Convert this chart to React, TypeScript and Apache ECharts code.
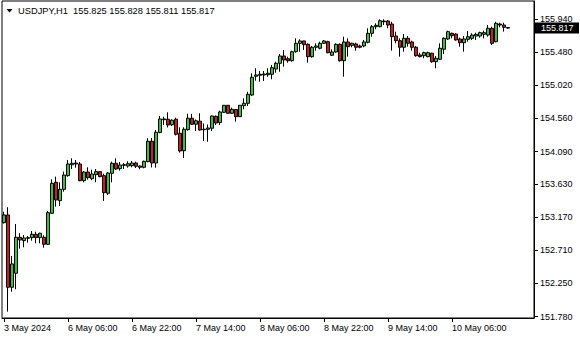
import { useEffect, useRef } from 'react';
import * as echarts from 'echarts';

const symbol = 'USDJPY';
const timeframe = 'H1';

const open = [
  153.095, 153.203, 152.192, 152.388, 152.891, 152.844, 152.877, 152.886, 152.933, 152.886,
  152.891, 152.793, 153.227, 153.660, 153.403, 153.562, 153.753, 153.906, 153.930, 153.916,
  153.683, 153.804, 153.711, 153.767, 153.809, 153.753, 153.507, 153.786, 153.926, 153.851,
  153.898, 153.888, 153.893, 153.930, 153.888, 153.870, 153.949, 154.234, 153.930, 154.357,
  154.536, 154.542, 154.465, 154.542, 154.346, 154.102, 154.396, 154.556, 154.473, 154.515,
  154.403, 154.402, 154.416, 154.583, 154.497, 154.639, 154.737, 154.625, 154.678, 154.578,
  154.732, 154.765, 154.881, 155.143, 155.157, 155.161, 155.165, 155.171, 155.245, 155.325,
  155.427, 155.389, 155.361, 155.487, 155.604, 155.637, 155.590, 155.417, 155.549, 155.535,
  155.604, 155.627, 155.437, 155.483, 155.590, 155.361, 155.623, 155.576, 155.595, 155.567,
  155.567, 155.618, 155.744, 155.837, 155.837, 155.916, 155.916, 155.874, 155.706, 155.641,
  155.549, 155.674, 155.623, 155.549, 155.441, 155.431, 155.417, 155.465, 155.347, 155.381,
  155.521, 155.665, 155.744, 155.734, 155.665, 155.613, 155.660, 155.674, 155.706, 155.706,
  155.730, 155.720, 155.814, 155.627, 155.874, 155.860, 155.825,
];

const high = [
  153.249, 153.311, 152.630, 153.077, 152.947, 152.923, 152.909, 152.979, 152.969, 152.955,
  152.919, 153.259, 153.702, 153.739, 153.660, 153.809, 153.972, 153.996, 153.972, 153.944,
  153.818, 153.870, 153.837, 153.846, 153.818, 153.781, 153.800, 153.949, 153.996, 153.944,
  153.930, 153.954, 153.958, 153.949, 153.893, 153.963, 154.276, 154.280, 154.392, 154.588,
  154.578, 154.639, 154.542, 154.564, 154.430, 154.430, 154.620, 154.616, 154.539, 154.625,
  154.483, 154.469, 154.592, 154.595, 154.662, 154.741, 154.741, 154.704, 154.681, 154.741,
  154.835, 154.927, 155.185, 155.255, 155.217, 155.217, 155.255, 155.301, 155.347, 155.455,
  155.511, 155.417, 155.501, 155.674, 155.660, 155.640, 155.604, 155.567, 155.604, 155.627,
  155.651, 155.640, 155.521, 155.604, 155.604, 155.697, 155.674, 155.613, 155.613, 155.585,
  155.651, 155.814, 155.860, 155.884, 155.940, 155.940, 155.930, 155.906, 155.767, 155.674,
  155.734, 155.706, 155.641, 155.567, 155.473, 155.487, 155.487, 155.473, 155.427, 155.604,
  155.688, 155.781, 155.753, 155.744, 155.683, 155.706, 155.776, 155.744, 155.753, 155.767,
  155.781, 155.860, 155.837, 155.906, 155.892, 155.892, 155.828,
];

const low = [
  153.084, 151.851, 152.130, 152.164, 152.732, 152.751, 152.816, 152.844, 152.807, 152.807,
  152.746, 152.783, 153.217, 153.319, 153.329, 153.529, 153.739, 153.846, 153.865, 153.674,
  153.660, 153.697, 153.688, 153.660, 153.730, 153.399, 153.483, 153.660, 153.832, 153.823,
  153.846, 153.865, 153.870, 153.860, 153.842, 153.856, 153.940, 153.867, 153.865, 154.346,
  154.462, 154.427, 154.448, 154.315, 154.077, 154.000, 154.382, 154.462, 154.378, 154.382,
  154.238, 154.228, 154.378, 154.462, 154.462, 154.630, 154.620, 154.616, 154.508, 154.574,
  154.681, 154.727, 154.867, 155.081, 155.067, 155.077, 155.137, 155.101, 155.193, 155.207,
  155.277, 155.333, 155.347, 155.473, 155.487, 155.511, 155.333, 155.403, 155.501, 155.521,
  155.595, 155.465, 155.427, 155.473, 155.347, 155.137, 155.417, 155.549, 155.501, 155.535,
  155.549, 155.604, 155.697, 155.800, 155.828, 155.860, 155.814, 155.501, 155.604, 155.417,
  155.487, 155.557, 155.501, 155.417, 155.409, 155.395, 155.409, 155.333, 155.255, 155.371,
  155.455, 155.651, 155.674, 155.641, 155.557, 155.487, 155.627, 155.651, 155.651, 155.683,
  155.674, 155.697, 155.581, 155.618, 155.828, 155.767, 155.811,
];

const close = [
  153.203, 152.192, 152.518, 152.891, 152.853, 152.881, 152.886, 152.933, 152.886, 152.947,
  152.793, 153.235, 153.646, 153.413, 153.562, 153.762, 153.916, 153.926, 153.916, 153.683,
  153.804, 153.725, 153.776, 153.809, 153.739, 153.515, 153.790, 153.926, 153.846, 153.902,
  153.906, 153.921, 153.930, 153.884, 153.870, 153.954, 154.234, 153.930, 154.360, 154.546,
  154.546, 154.462, 154.528, 154.332, 154.098, 154.402, 154.556, 154.472, 154.521, 154.392,
  154.395, 154.420, 154.588, 154.490, 154.644, 154.737, 154.625, 154.681, 154.578, 154.737,
  154.765, 154.891, 155.129, 155.161, 155.171, 155.175, 155.185, 155.263, 155.325, 155.427,
  155.371, 155.361, 155.487, 155.604, 155.637, 155.585, 155.417, 155.549, 155.567, 155.604,
  155.637, 155.473, 155.483, 155.590, 155.361, 155.623, 155.557, 155.604, 155.549, 155.549,
  155.623, 155.744, 155.837, 155.856, 155.920, 155.906, 155.860, 155.697, 155.641, 155.549,
  155.674, 155.604, 155.549, 155.431, 155.417, 155.473, 155.473, 155.347, 155.395, 155.535,
  155.674, 155.767, 155.711, 155.651, 155.613, 155.665, 155.697, 155.720, 155.730, 155.753,
  155.753, 155.814, 155.604, 155.884, 155.860, 155.828, 155.817,
];

const yTickValues = [151.78, 152.25, 152.71, 153.17, 153.63, 154.09, 154.56, 155.02, 155.48, 155.94];
const xTickLabels = [
  '3 May 2024', '6 May 06:00', '6 May 22:00', '7 May 14:00',
  '8 May 06:00', '8 May 22:00', '9 May 14:00', '10 May 06:00',
];

const BARS_PER_TICK = 16;
const EMPTY_SLOTS = 6;
const FONT = '"Liberation Sans", Arial, sans-serif';
const BULL = '#36c436';
const BEAR = '#d81818';

function barTime(i: number): string {
  const pad = (n: number) => (n < 10 ? '0' + n : '' + n);
  if (i < 10) return `3 May ${pad(14 + i)}:00`;
  const h = i - 10;
  return `${6 + Math.floor(h / 24)} May ${pad(h % 24)}:00`;
}

export default function App() {
  const ref = useRef<HTMLDivElement>(null);

  useEffect(() => {
    if (!ref.current) return;
    const chart = echarts.init(ref.current, undefined, { renderer: 'svg' });
    const n = open.length;
    const categories = Array.from({ length: n + EMPTY_SLOTS }, (_, i) => barTime(i));
    const data = open.map((o, i) => [o, close[i], low[i], high[i]]);
    const lastTick = (xTickLabels.length - 1) * BARS_PER_TICK;
    const showTick = (index: number) => index % BARS_PER_TICK === 0 && index <= lastTick;

    chart.setOption({
      animation: false,
      backgroundColor: '#fff',
      grid: {
        left: 2, top: 1, width: 532, height: 317,
        show: true, borderColor: '#000', borderWidth: 1, backgroundColor: '#fff',
      },
      xAxis: {
        type: 'category',
        data: categories,
        boundaryGap: true,
        axisLine: { show: true, lineStyle: { color: '#000', width: 1 } },
        axisTick: {
          show: true, interval: showTick, alignWithLabel: true, length: 4,
          lineStyle: { color: '#000' },
        },
        axisLabel: {
          interval: showTick,
          formatter: (_v: string, index: number) => xTickLabels[index / BARS_PER_TICK] ?? '',
          align: 'left',
          margin: 5,
          color: '#000',
          fontFamily: FONT,
          fontSize: 9,
        },
        splitLine: { show: false },
      },
      yAxis: {
        type: 'value',
        position: 'right',
        min: 151.762,
        max: 156.196,
        axisLine: { show: true, lineStyle: { color: '#000', width: 1 } },
        axisTick: { show: true, customValues: yTickValues, length: 4, lineStyle: { color: '#000' } },
        axisLabel: {
          customValues: yTickValues,
          formatter: (v: number) => v.toFixed(3),
          margin: 6,
          color: '#000',
          fontFamily: FONT,
          fontSize: 9,
        },
        splitLine: { show: false },
      },
      series: [
        {
          type: 'candlestick',
          data,
          barWidth: 3,
          itemStyle: {
            color: BULL,
            color0: BEAR,
            borderColor: '#000',
            borderColor0: '#000',
            borderColorDoji: '#000',
            borderWidth: 1,
          },
        },
      ],
    });

    const py = chart.convertToPixel({ yAxisIndex: 0 }, close[n - 1]) as number;
    chart.setOption({
      graphic: [
        {
          id: 'tri',
          type: 'polygon',
          shape: { points: [[6.5, 9], [12.5, 9], [9.5, 12.5]] },
          style: { fill: '#000' },
        },
        {
          id: 'title',
          type: 'text',
          x: 18,
          y: 11,
          style: {
            text: `${symbol},${timeframe}  ${open[n - 1].toFixed(3)} ${high[n - 1].toFixed(3)} ${low[n - 1].toFixed(3)} ${close[n - 1].toFixed(3)}`,
            font: `9.3px ${FONT}`,
            fill: '#000',
            verticalAlign: 'middle',
          },
        },
        {
          id: 'tagRect',
          type: 'rect',
          shape: { x: 535, y: Math.round(py) - 5.5, width: 44, height: 11 },
          style: { fill: '#000' },
        },
        {
          id: 'tagText',
          type: 'text',
          x: 541,
          y: py,
          style: { text: close[n - 1].toFixed(3), font: `9px ${FONT}`, fill: '#fff', verticalAlign: 'middle' },
        },
      ],
    });

    return () => chart.dispose();
  }, []);

  return <div ref={ref} style={{ position: 'fixed', left: 0, top: 0, width: 580, height: 340 }} />;
}
